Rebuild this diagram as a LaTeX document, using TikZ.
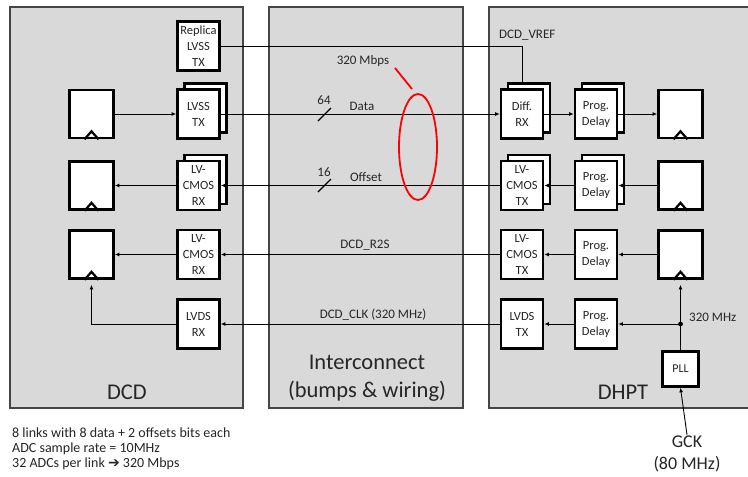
\documentclass[tikz,border=0pt]{standalone}
\usepackage{fontspec}
\setmainfont{Carlito}
\newfontfamily\djv{DejaVu Sans}
\usetikzlibrary{arrows.meta,shapes.geometric}
\definecolor{panelfill}{HTML}{D9D9D9}
\definecolor{panelline}{HTML}{454545}
\definecolor{txt}{HTML}{262626}
\tikzset{
  panel/.style={fill=panelfill,draw=panelline,line width=2.2pt},
  blk/.style={draw=black,line width=2.6pt,fill=white,minimum width=42pt,minimum height=49pt,
    inner sep=0pt,align=center,text=txt,font=\fontsize{12.5}{16}\selectfont},
  ffbox/.style={draw=black,line width=2.6pt,fill=white,minimum width=44pt,minimum height=48pt,inner sep=0pt},
  pllbox/.style={draw=black,line width=2.6pt,fill=white,minimum width=36pt,minimum height=35pt,
    inner sep=0pt,text=txt,font=\fontsize{12}{14}\selectfont},
  conn/.style={line width=0.9pt,-{Latex[length=4.5pt,width=4pt]}},
  wire/.style={line width=0.9pt},
  lbl/.style={text=txt,font=\fontsize{13}{15}\selectfont,inner sep=1pt},
  biglbl/.style={text=txt,font=\fontsize{22.5}{28}\selectfont,align=center,inner sep=0pt},
  redline/.style={draw=red,line width=1.8pt},
  trig/.style={line width=2.2pt,line join=miter}
}
\begin{document}
\begin{tikzpicture}[x=1pt,y=-1pt]
\clip (0,0) rectangle (748,477);
\fill[white] (0,0) rectangle (748,477);
% panels
\draw[panel] (10,7) rectangle (243,408);
\draw[panel] (269,7) rectangle (463,408);
\draw[panel] (489,7) rectangle (770,408);
\node[biglbl] (dcdl) at (127,392) {DCD};
\node[biglbl] (icl) at (367,378) {Interconnect\\(bumps \& wiring)};
\node[biglbl] (dhptl) at (623,392) {DHPT};

% DCD side
\node[blk] (rep) at (198.5,46) {Replica\\LVSS\\TX};
\node[blk] (lvssb) at (205.5,108) {};
\node[blk] (lvss) at (198.5,114) {LVSS\\TX};
\node[blk] (rx1b) at (205.5,179.5) {};
\node[blk] (rx1) at (198.5,185.5) {LV-\\CMOS\\RX};
\node[blk] (rx2) at (198.5,254.5) {LV-\\CMOS\\RX};
\node[blk] (lvdsrx) at (198.5,324) {LVDS\\RX};
\node[ffbox] (ff1) at (91.5,114) {};
\node[ffbox] (ff2) at (91.5,185.5) {};
\node[ffbox] (ff3) at (91.5,254.5) {};

% DHPT side
\node[blk] (diffb) at (529,108) {};
\node[blk] (diff) at (522,114) {Diff.\\RX};
\node[blk] (pd1b) at (603,108) {};
\node[blk] (pd1) at (596,114) {Prog.\\Delay};
\node[ffbox] (fr1) at (680.5,114) {};
\node[blk] (tx1b) at (529,179.5) {};
\node[blk] (tx1) at (522,185.5) {LV-\\CMOS\\TX};
\node[blk] (pd2b) at (603,179.5) {};
\node[blk] (pd2) at (596,185.5) {Prog.\\Delay};
\node[ffbox] (fr2) at (680.5,185.5) {};
\node[blk] (tx2) at (522,254.5) {LV-\\CMOS\\TX};
\node[blk] (pd3) at (596,254.5) {Prog.\\Delay};
\node[ffbox] (fr3) at (680.5,254.5) {};
\node[blk] (lvdstx) at (522,324) {LVDS\\TX};
\node[blk] (pd4) at (596,324) {Prog.\\Delay};
\node[pllbox] (pll) at (680.5,369) {PLL};

% flip-flop clock triangles
\foreach \f in {ff1,ff2,ff3,fr1,fr2,fr3}{
  \draw[trig] ([xshift=-7pt]\f.south) -- ([yshift=8pt]\f.south) -- ([xshift=7pt]\f.south);
}

% connectors DCD internal
\draw[conn] (ff1.east) -- (lvss.west);
\draw[conn] (rx1.west) -- (ff2.east);
\draw[conn] (rx2.west) -- (ff3.east);
\coordinate (ckc) at (91.5,324);
\draw[conn,shorten >=5pt] (lvdsrx.west) -- (ckc) -- (ff3.south);

% links
\draw[wire] (rep.east) -| (diff.north |- diffb.north);
\draw[conn] (lvss.east) -- (diff.west);
\draw[conn] (tx1.west) -- (rx1.east);
\draw[conn] (tx2.west) -- (rx2.east);
\draw[conn] (lvdstx.west) -- (lvdsrx.east);

% DHPT internal
\draw[conn] (diff.east) -- (pd1.west);
\draw[conn] (pd1.east) -- (fr1.west);
\draw[conn] (fr2.west) -- (pd2.east);
\draw[conn] (pd2.west) -- (tx1.east);
\draw[conn] (fr3.west) -- (pd3.east);
\draw[conn] (pd3.west) -- (tx2.east);
\draw[conn] (pd4.west) -- (lvdstx.east);
\coordinate (clk) at (680.5,324);
\draw[conn,shorten >=5pt] (pll.north) -- (fr3.south);
\draw[conn] (clk) -- (pd4.east);
\fill (clk) circle (2.4pt);
\node[lbl,anchor=west] (mhz) at (688,317) {320 MHz};
\node[text=txt,font=\fontsize{18}{22}\selectfont,align=center,inner sep=1pt] (gck) at (687,454) {GCK\\(80 MHz)};
\draw[conn] (gck.north) -- (pll.south);

% link labels
\node[lbl,anchor=west] (vref) at (498,35) {DCD\_VREF};
\node[lbl] (mbps) at (363,61) {320 Mbps};
\node[lbl] (n64) at (324,100) {64};
\node[lbl] (datal) at (362,106) {Data};
\node[lbl] (n16) at (324,172) {16};
\node[lbl] (offl) at (366,177) {Offset};
\node[lbl] (r2s) at (365,245) {DCD\_R2S};
\node[lbl] (clkl) at (373,315) {DCD\_CLK (320 MHz)};
\draw[line width=1.1pt] (318,121) -- (331,108);
\draw[line width=1.1pt] (318,192) -- (331,179);

% red annotation
\node[redline,ellipse,minimum width=38pt,minimum height=106pt,inner sep=0pt] (ell) at (418,147) {};
\coordinate (ra) at (395,68);
\coordinate (rb) at (412,89);
\draw[redline] (ra) -- (rb);

% notes
\node[anchor=north west,align=left,text=txt,font=\fontsize{14}{15}\selectfont,inner sep=0pt] (notes) at (12,428)
  {8 links with 8 data + 2 offsets bits each\\ADC sample rate = 10MHz\\32 ADCs per link {\djv ➔} 320 Mbps};
\end{tikzpicture}
\end{document}
